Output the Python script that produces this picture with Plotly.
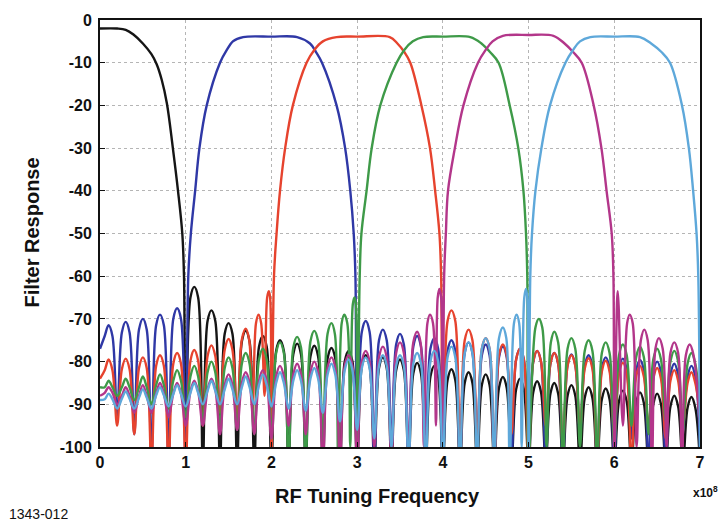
import plotly.graph_objects as go

# x in units of 1e8 Hz, y in dB.
# Each side lobe is given by its two shoulders, its peak and the following null;
# -104 marks a null that runs below the -100 floor of the plot.
BLACK_X = [0, 0.2, 0.3, 0.39, 0.5, 0.6, 0.66, 0.72, 0.78, 0.85, 0.91, 0.96, 0.98, 1.0,
           1.055, 1.1, 1.145, 1.2, 1.255, 1.3, 1.345, 1.4, 1.455, 1.5, 1.545, 1.6,
           1.655, 1.7, 1.745, 1.8, 1.855, 1.9, 1.945, 2.0, 2.055, 2.1, 2.145, 2.2,
           2.255, 2.3, 2.345, 2.4, 2.455, 2.5, 2.545, 2.6, 2.655, 2.7, 2.745, 2.8,
           2.855, 2.9, 2.945, 3.0, 3.055, 3.1, 3.145, 3.2, 3.255, 3.3, 3.345, 3.4,
           3.455, 3.5, 3.545, 3.6, 3.655, 3.7, 3.745, 3.8, 3.855, 3.9, 3.945, 4.0,
           4.055, 4.1, 4.145, 4.2, 4.255, 4.3, 4.345, 4.4, 4.455, 4.5, 4.545, 4.6,
           4.655, 4.7, 4.745, 4.8, 4.855, 4.9, 4.945, 5.0, 5.055, 5.1, 5.145, 5.2,
           5.255, 5.3, 5.345, 5.4, 5.455, 5.5, 5.545, 5.6, 5.655, 5.7, 5.745, 5.8,
           5.855, 5.9, 5.945, 6.0, 6.055, 6.1, 6.145, 6.2, 6.255, 6.3, 6.345, 6.4,
           6.455, 6.5, 6.545, 6.6, 6.655, 6.7, 6.745, 6.8, 6.855, 6.9, 6.945, 7.0]
BLACK_Y = [-2, -2, -2.3, -3.4, -5.5, -8.0, -10.3, -14, -19.5, -30, -40, -50, -60, -104,
           -65, -62.5, -65, -104, -70.5, -68, -70.5, -104, -73.5, -71, -73.5, -104,
           -75.3, -72.8, -75.3, -104, -76.5, -74, -76.5, -104, -77.5, -75, -77.5, -104,
           -78.3, -75.8, -78.3, -104, -78.8, -76.3, -78.8, -104, -79.3, -76.8, -79.3, -104,
           -80, -77.5, -80, -104, -81, -78.5, -81, -104, -81.5, -79, -81.5, -104,
           -82, -79.5, -82, -104, -82.8, -80.3, -82.8, -104, -83.5, -81, -83.5, -104,
           -84.3, -81.8, -84.3, -104, -85, -82.5, -85, -104, -85.5, -83, -85.5, -104,
           -86.1, -83.6, -86.1, -104, -86.5, -84, -86.5, -104, -87.1, -84.6, -87.1, -104,
           -87.5, -85, -87.5, -104, -88, -85.5, -88, -104, -88.5, -86, -88.5, -104,
           -88.8, -86.3, -88.8, -104, -89.3, -86.8, -89.3, -104, -89.7, -87.2, -89.7, -104,
           -90, -87.5, -90, -104, -90.5, -88, -90.5, -104, -90.8, -88.3, -90.8, -104]

BLUE_X = [0, 0.055, 0.1, 0.145, 0.2, 0.255, 0.3, 0.345, 0.4, 0.455, 0.5, 0.545, 0.6,
          0.655, 0.7, 0.745, 0.8, 0.855, 0.9, 0.945, 1.0,
          1.03, 1.06, 1.11, 1.16, 1.245, 1.4, 1.48, 1.55, 1.67, 2.0, 2.3, 2.45, 2.52,
          2.59, 2.76, 2.86, 2.92, 2.96, 2.98, 3.0,
          3.055, 3.1, 3.145, 3.2, 3.255, 3.3, 3.345, 3.4, 3.455, 3.5, 3.545, 3.6,
          3.655, 3.7, 3.745, 3.8, 3.855, 3.9, 3.945, 4.0, 4.055, 4.1, 4.145, 4.2,
          4.255, 4.3, 4.345, 4.4, 4.455, 4.5, 4.545, 4.6, 4.655, 4.7, 4.745, 4.8,
          4.855, 4.9, 4.945, 5.0, 5.055, 5.1, 5.145, 5.2, 5.255, 5.3, 5.345, 5.4,
          5.455, 5.5, 5.545, 5.6, 5.655, 5.7, 5.745, 5.8, 5.855, 5.9, 5.945, 6.0,
          6.055, 6.1, 6.145, 6.2, 6.255, 6.3, 6.345, 6.4, 6.455, 6.5, 6.545, 6.6,
          6.655, 6.7, 6.745, 6.8, 6.855, 6.9, 6.945, 7.0]
BLUE_Y = [-77, -74, -71.5, -74, -93, -73.2, -70.7, -73.2, -97, -72.5, -70, -72.5, -104,
          -71.5, -69, -71.5, -104, -70, -67.5, -70, -104,
          -60, -50, -40, -30, -20, -10, -7, -5, -4, -3.9, -4, -5.5, -7.5,
          -10, -20, -30, -40, -50, -60, -104,
          -73, -70.5, -73, -104, -75, -72.5, -75, -100, -76, -73.5, -76, -104,
          -76.5, -74, -76.5, -97, -77, -74.5, -77, -104, -77.5, -75, -77.5, -104,
          -78, -75.5, -78, -98, -78.5, -76, -78.5, -104, -79, -76.5, -79, -104,
          -79.5, -77, -79.5, -96, -80, -77.5, -80, -104, -80.5, -78, -80.5, -104,
          -80.8, -78.3, -80.8, -97, -81, -78.5, -81, -104, -81.5, -79, -81.5, -104,
          -81.8, -79.3, -81.8, -98, -82.1, -79.6, -82.1, -104, -82.5, -80, -82.5, -104,
          -83, -80.5, -83, -96, -83.5, -81, -83.5, -100]

RED_X = [0, 0.055, 0.1, 0.145, 0.2, 0.255, 0.3, 0.345, 0.4, 0.455, 0.5, 0.545, 0.6,
         0.655, 0.7, 0.745, 0.8, 0.855, 0.9, 0.945, 1.0, 1.055, 1.1, 1.145, 1.2,
         1.255, 1.3, 1.345, 1.4, 1.455, 1.5, 1.545, 1.6, 1.655, 1.7, 1.74, 1.78,
         1.82, 1.85, 1.88, 1.92, 1.95, 1.97, 1.985, 2.0,
         2.03, 2.06, 2.1, 2.16, 2.25, 2.41, 2.5, 2.6, 2.76, 3.0, 3.38, 3.47, 3.55,
         3.62, 3.75, 3.85, 3.91, 3.96, 3.98, 4.0,
         4.055, 4.1, 4.145, 4.2, 4.255, 4.3, 4.345, 4.4, 4.455, 4.5, 4.545, 4.6,
         4.655, 4.7, 4.745, 4.8, 4.855, 4.9, 4.945, 5.0, 5.055, 5.1, 5.145, 5.2,
         5.255, 5.3, 5.345, 5.4, 5.455, 5.5, 5.545, 5.6, 5.655, 5.7, 5.745, 5.8,
         5.855, 5.9, 5.945, 6.0, 6.055, 6.1, 6.145, 6.2, 6.255, 6.3, 6.345, 6.4,
         6.455, 6.5, 6.545, 6.6, 6.655, 6.7, 6.745, 6.8, 6.855, 6.9, 6.945, 7.0]
RED_Y = [-84, -82, -79.5, -82, -95, -81.8, -79.3, -81.8, -97, -81.5, -79, -81.5, -104,
         -81, -78.5, -81, -104, -80.5, -78, -80.5, -104, -79.8, -77.3, -79.8, -95,
         -78.7, -76.2, -78.7, -92, -77.2, -74.7, -77.2, -94, -74.8, -72.3, -74.8, -92,
         -71, -69, -71, -88, -65, -63.5, -65, -104,
         -60, -50, -40, -30, -20, -10, -7, -5, -4, -3.9, -4, -5.5, -7.5,
         -10, -20, -30, -40, -50, -60, -104,
         -70.5, -68, -70.5, -104, -75, -72.5, -75, -100, -77, -74.5, -77, -104,
         -78.5, -76, -78.5, -97, -79.5, -77, -79.5, -104, -80, -77.5, -80, -95,
         -80.5, -78, -80.5, -100, -81, -78.5, -81, -96, -81.7, -79.2, -81.7, -104,
         -82.3, -79.8, -82.3, -97, -82.8, -80.3, -82.8, -104, -83.5, -81, -83.5, -95,
         -84, -81.5, -84, -98, -84.5, -82, -84.5, -95, -85, -82.5, -85, -93]

GREEN_X = [0, 0.055, 0.1, 0.145, 0.2, 0.255, 0.3, 0.345, 0.4, 0.455, 0.5, 0.545, 0.6,
           0.655, 0.7, 0.745, 0.8, 0.855, 0.9, 0.945, 1.0, 1.055, 1.1, 1.145, 1.2,
           1.255, 1.3, 1.345, 1.4, 1.455, 1.5, 1.545, 1.6, 1.655, 1.7, 1.745, 1.8,
           1.855, 1.9, 1.945, 2.0, 2.055, 2.1, 2.145, 2.2, 2.255, 2.3, 2.345, 2.4,
           2.455, 2.5, 2.545, 2.6, 2.655, 2.7, 2.74, 2.78, 2.82, 2.85, 2.885, 2.92,
           2.95, 2.97, 2.985, 3.0,
           3.03, 3.05, 3.11, 3.17, 3.27, 3.46, 3.55, 3.65, 3.77, 4.0, 4.32, 4.45, 4.55,
           4.65, 4.78, 4.88, 4.94, 4.97, 4.985, 5.0,
           5.08, 5.12, 5.16, 5.21, 5.26, 5.3, 5.345, 5.4, 5.455, 5.5, 5.545, 5.6,
           5.655, 5.7, 5.745, 5.8, 5.855, 5.9, 5.945, 6.0, 6.055, 6.1, 6.145, 6.2,
           6.255, 6.3, 6.345, 6.4, 6.455, 6.5, 6.545, 6.6, 6.655, 6.7, 6.745, 6.8,
           6.855, 6.9, 6.945, 7.0]
GREEN_Y = [-86, -86, -84.5, -86, -88, -86, -84, -86, -89, -86, -83.5, -86, -90,
           -85.5, -83, -85.5, -91, -84.5, -82, -84.5, -93, -83.5, -81, -83.5, -94,
           -82.5, -80, -82.5, -95, -81.5, -79, -81.5, -96, -80.5, -78, -80.5, -97,
           -79.5, -77, -79.5, -98, -78, -75.5, -78, -104, -76.7, -74.2, -76.7, -104,
           -75.3, -72.8, -75.3, -100, -73.5, -71, -73.5, -104, -71, -69, -71, -100,
           -66.5, -65, -66.5, -104,
           -60, -50, -40, -30, -20, -10, -7, -5, -4, -3.9, -4, -5.5, -7.5,
           -10, -20, -30, -40, -50, -60, -104,
           -72, -70, -72, -100, -75.5, -73, -75.5, -104, -77, -74.5, -77, -100,
           -77.5, -75, -77.5, -104, -78, -75.5, -78, -100, -78.5, -76, -78.5, -95,
           -79, -76.5, -79, -97, -79.5, -77, -79.5, -94, -80, -77.5, -80, -96,
           -80.5, -78, -80.5, -92]

MAGENTA_X = [0, 0.055, 0.1, 0.145, 0.2, 0.255, 0.3, 0.345, 0.4, 0.455, 0.5, 0.545, 0.6,
             0.655, 0.7, 0.745, 0.8, 0.855, 0.9, 0.945, 1.0, 1.055, 1.1, 1.145, 1.2,
             1.255, 1.3, 1.345, 1.4, 1.455, 1.5, 1.545, 1.6, 1.655, 1.7, 1.745, 1.8,
             1.855, 1.9, 1.945, 2.0, 2.055, 2.1, 2.145, 2.2, 2.255, 2.3, 2.345, 2.4,
             2.455, 2.5, 2.545, 2.6, 2.655, 2.7, 2.745, 2.8, 2.855, 2.9, 2.945, 3.0,
             3.055, 3.1, 3.145, 3.2, 3.255, 3.3, 3.345, 3.4, 3.455, 3.5, 3.545, 3.6,
             3.655, 3.7, 3.74, 3.78, 3.82, 3.85, 3.885, 3.92, 3.94, 3.96, 3.98, 4.0,
             4.015, 4.035, 4.06, 4.14, 4.24, 4.41, 4.5, 4.58, 4.7, 5.0, 5.29, 5.42,
             5.52, 5.62, 5.76, 5.85, 5.91, 5.97, 5.99, 6.0,
             6.04, 6.1, 6.15, 6.18, 6.215, 6.26, 6.31, 6.35, 6.39, 6.44,
             6.48, 6.52, 6.565, 6.61, 6.655, 6.7, 6.745, 6.79, 6.835, 6.88, 6.925, 7.0]
MAGENTA_Y = [-88, -87.3, -86, -87.3, -90, -88, -86, -88, -92, -88, -85.5, -88, -92,
             -87.5, -85, -87.5, -93, -87.5, -85, -87.5, -95, -87, -84.5, -87, -95,
             -86.5, -84, -86.5, -97, -85.5, -83, -85.5, -96, -85, -82.5, -85, -97,
             -84.5, -82, -84.5, -98, -83.5, -81, -83.5, -95, -83, -80.5, -83, -97,
             -82.5, -80, -82.5, -104, -81.5, -79, -81.5, -104, -81, -78.5, -81, -104,
             -80, -77.5, -80, -100, -79, -76.5, -79, -104, -78, -75.5, -78, -104,
             -75.5, -73, -75.5, -100, -71, -69, -71, -95, -65, -63, -65, -104,
             -60, -50, -40, -30, -20, -10, -7, -5, -3.7, -3.5, -3.7, -5.5,
             -7.5, -10, -20, -30, -40, -50, -60, -104,
             -63.5, -95, -71, -69, -71, -100, -75, -72.5, -75, -104,
             -77, -74.5, -77, -100, -78, -75.5, -78, -104, -78.5, -76, -78.5, -95]

CYAN_X = [0, 0.055, 0.1, 0.145, 0.2, 0.255, 0.3, 0.345, 0.4, 0.455, 0.5, 0.545, 0.6,
          0.655, 0.7, 0.745, 0.8, 0.855, 0.9, 0.945, 1.0, 1.055, 1.1, 1.145, 1.2,
          1.255, 1.3, 1.345, 1.4, 1.455, 1.5, 1.545, 1.6, 1.655, 1.7, 1.745, 1.8,
          1.855, 1.9, 1.945, 2.0, 2.055, 2.1, 2.145, 2.2, 2.255, 2.3, 2.345, 2.4,
          2.455, 2.5, 2.545, 2.6, 2.655, 2.7, 2.745, 2.8, 2.855, 2.9, 2.945, 3.0,
          3.055, 3.1, 3.145, 3.2, 3.255, 3.3, 3.345, 3.4, 3.455, 3.5, 3.545, 3.6,
          3.655, 3.7, 3.745, 3.8, 3.855, 3.9, 3.945, 4.0, 4.055, 4.1, 4.145, 4.2,
          4.255, 4.3, 4.345, 4.4, 4.455, 4.5, 4.545, 4.6, 4.655, 4.7, 4.74, 4.78,
          4.83, 4.86, 4.89, 4.92, 4.95, 4.97, 4.985, 5.0,
          5.02, 5.04, 5.08, 5.15, 5.25, 5.43, 5.52, 5.6, 5.72, 6.0, 6.3, 6.43, 6.55,
          6.65, 6.79, 6.87, 6.92, 6.96, 6.98, 7.0]
CYAN_Y = [-89, -88.8, -87.5, -88.8, -91, -88.7, -87, -88.7, -91, -88.4, -86.5, -88.4, -91,
          -87.9, -86, -87.9, -90.5, -87.6, -85.5, -87.6, -90.5, -87.3, -85, -87.3, -90,
          -86.8, -84.5, -86.8, -90, -86.5, -84, -86.5, -90, -86, -83.5, -86, -90,
          -85.5, -83, -85.5, -90.5, -85, -82.5, -85, -91, -84.5, -82, -84.5, -91.5,
          -84, -81.5, -84, -92, -83, -80.5, -83, -94, -82, -79.5, -82, -96,
          -81.5, -79, -81.5, -98, -81, -78.5, -81, -100, -81, -78.5, -81, -104,
          -80.5, -78, -80.5, -104, -80, -77.5, -80, -104, -79, -76.5, -79, -104,
          -78, -75.5, -78, -104, -77, -74.5, -77, -104, -74.5, -72, -74.5, -104,
          -71, -69, -71, -100, -65, -63, -65, -104,
          -60, -50, -40, -30, -20, -10, -7, -5, -4, -3.9, -4, -5.5, -7.5,
          -10, -20, -30, -40, -50, -60, -104]

SERIES = [
    ("0-1", BLACK_X, BLACK_Y, "#151515"),
    ("1-3", BLUE_X, BLUE_Y, "#2f38a6"),
    ("2-4", RED_X, RED_Y, "#e6432e"),
    ("3-5", GREEN_X, GREEN_Y, "#3e9a48"),
    ("4-6", MAGENTA_X, MAGENTA_Y, "#b3368a"),
    ("5-7", CYAN_X, CYAN_Y, "#5ea8da"),
]

X_TICKS = [0, 1, 2, 3, 4, 5, 6, 7]
Y_TICKS = [-100, -90, -80, -70, -60, -50, -40, -30, -20, -10, 0]
Y_TICK_TEXT = ["-100", "-90", "-80", "-70", "-60", "-50", "-40", "-30", "-20", "-10", "0"]

FONT = "Liberation Sans, Arial, sans-serif"

fig = go.Figure()
for name, xs, ys, color in SERIES:
    fig.add_trace(go.Scatter(
        x=xs, y=ys, mode="lines", name=name,
        line=dict(color=color, width=2.4, shape="spline", smoothing=1.0),
        hoverinfo="skip", showlegend=False))

axis_common = dict(
    showline=True, mirror=True, linecolor="#111", linewidth=2,
    ticks="inside", ticklen=5, tickcolor="#111", tickwidth=1,
    showgrid=True, gridcolor="#b5b5b5", griddash="dot", gridwidth=1,
    zeroline=False,
    tickfont=dict(family=FONT, size=16, color="#111", weight="bold"),
)

fig.update_xaxes(range=[0, 7], tickvals=X_TICKS, ticktext=[str(v) for v in X_TICKS],
                 **axis_common)
fig.update_yaxes(range=[-100, 0], tickvals=Y_TICKS, ticktext=Y_TICK_TEXT,
                 ticklabelstandoff=3, **axis_common)

fig.update_layout(
    width=722, height=523,
    margin=dict(l=100, r=22, t=15, b=76),
    paper_bgcolor="white", plot_bgcolor="white",
    font=dict(family=FONT, color="#111"),
    annotations=[
        dict(text="Filter Response", xref="paper", yref="paper", x=-0.113, y=0.503,
             xanchor="center", yanchor="middle", textangle=-90, showarrow=False,
             font=dict(family=FONT, size=20, weight="bold", color="#111")),
        dict(text="RF Tuning Frequency", xref="paper", yref="paper", x=0.462, y=-0.115,
             xanchor="center", yanchor="middle", showarrow=False,
             font=dict(family=FONT, size=20, weight="bold", color="#111")),
        dict(text="x10<sup>8</sup>", xref="paper", yref="paper", x=1.034, y=-0.105,
             xanchor="right", yanchor="middle", showarrow=False,
             font=dict(family=FONT, size=12, weight="bold", color="#111")),
        dict(text="1343-012", xref="paper", yref="paper", x=-0.155, y=-0.157,
             xanchor="left", yanchor="middle", showarrow=False,
             font=dict(family=FONT, size=14, color="#111")),
    ],
)

fig.write_html("out.html")
